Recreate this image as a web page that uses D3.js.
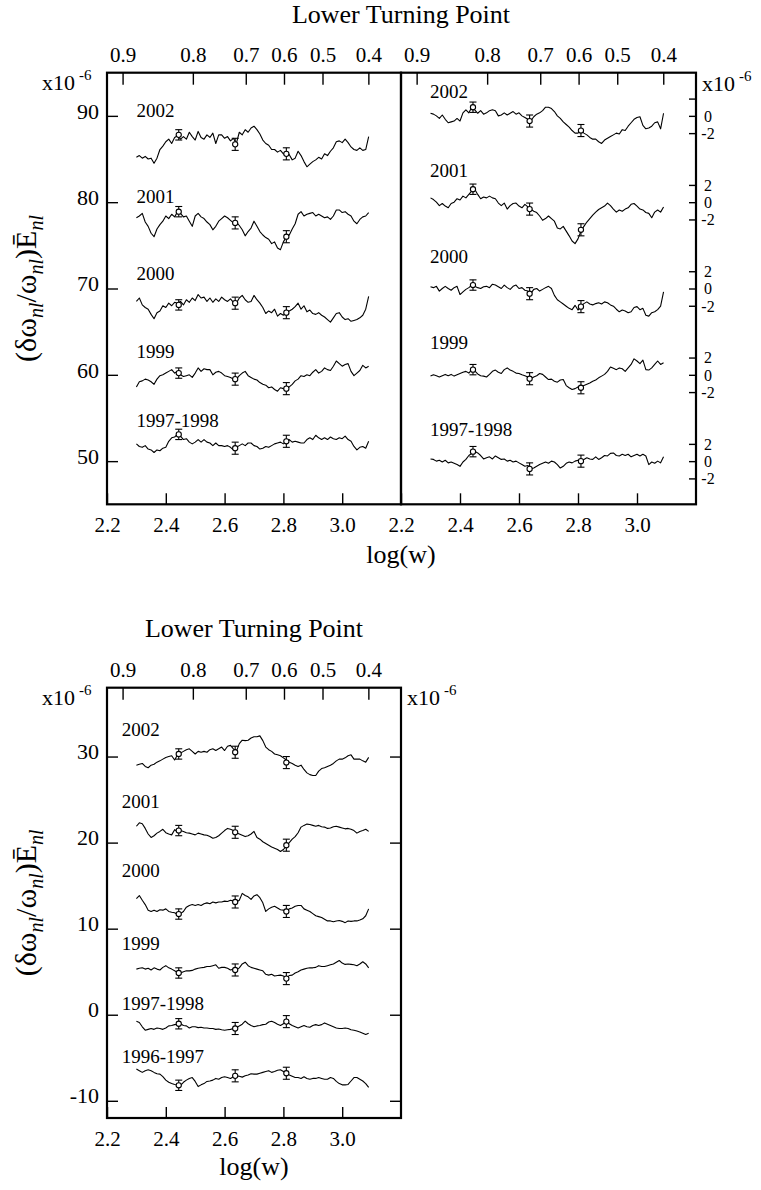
<!DOCTYPE html>
<html>
<head>
<meta charset="utf-8">
<script src="https://cdn.jsdelivr.net/npm/d3@7/dist/d3.min.js"></script>
<style>
  body { margin: 0; background: #fff; }
  text { font-family: "Liberation Serif", "Times New Roman", serif; fill: #000; }
</style>
</head>
<body>
<svg id="chart" width="761" height="1190"></svg>
<script>
// sampling grid, log(w)
const logW = [2.30,2.31,2.32,2.33,2.34,2.35,2.36,2.37,2.38,2.39,
              2.40,2.41,2.42,2.43,2.44,2.45,2.46,2.47,2.48,2.49,
              2.50,2.51,2.52,2.53,2.54,2.55,2.56,2.57,2.58,2.59,
              2.60,2.61,2.62,2.63,2.64,2.65,2.66,2.67,2.68,2.69,
              2.70,2.71,2.72,2.73,2.74,2.75,2.76,2.77,2.78,2.79,
              2.80,2.81,2.82,2.83,2.84,2.85,2.86,2.87,2.88,2.89,
              2.90,2.91,2.92,2.93,2.94,2.95,2.96,2.97,2.98,2.99,
              3.00,3.01,3.02,3.03,3.04,3.05,3.06,3.07,3.08,3.09];
const errLogW = [2.444, 2.636, 2.810];
const errHalf = [0.6, 0.7, 0.7];

// top axis: lower turning point
const turnPos = [2.253, 2.492, 2.672, 2.802, 2.933, 3.089];
const turnLabels = ["0.9", "0.8", "0.7", "0.6", "0.5", "0.4"];
const logTicks = [2.2, 2.4, 2.6, 2.8, 3.0];

const yearsTop = ["2002", "2001", "2000", "1999", "1997-1998"];
const yearsBottom = ["2002", "2001", "2000", "1999", "1997-1998", "1996-1997"];

// ---- top-left panel ----
const tl2002 = [85.2,85.4,85.1,85.3,85.0,85.1,84.5,85.1,86.1,86.5, 87.0,87.3,86.8,87.5,87.7,87.3,87.6,87.3,88.1,87.6,
  87.2,88.2,87.5,87.3,87.8,87.5,88.0,86.8,87.8,87.8, 87.4,87.6,87.1,87.4,86.8,88.1,87.8,88.4,88.1,88.6,
  88.8,88.4,87.9,87.2,86.8,86.6,86.1,86.1,85.8,86.0, 85.6,85.8,85.5,84.9,85.1,85.9,85.4,84.7,84.1,84.4,
  84.7,84.9,85.2,85.0,85.6,85.4,85.9,86.3,87.0,87.1, 86.9,87.3,86.9,86.4,86.1,86.0,86.3,86.0,86.1,87.6];
const tl2001 = [78.2,78.4,78.7,77.7,77.2,76.4,76.0,76.9,77.4,77.8, 78.4,78.1,78.6,78.3,78.9,78.7,78.3,78.4,77.8,77.2,
  78.4,78.7,78.3,78.1,77.7,77.4,76.8,77.2,77.8,78.1, 78.4,78.2,77.9,77.6,77.7,77.3,76.8,76.1,76.6,77.0,
  77.8,77.2,76.6,76.2,75.9,75.7,75.2,75.4,74.7,74.5, 75.4,76.0,76.2,76.9,77.5,78.6,78.9,78.4,78.6,78.7,
  78.8,78.4,78.6,78.4,78.2,78.3,78.0,78.4,79.1,79.1, 78.8,78.9,78.6,78.4,77.8,77.5,78.0,78.3,78.4,78.8];
const tl2000 = [68.5,68.9,68.1,67.8,67.6,67.0,66.5,67.2,67.4,68.0, 67.8,68.3,68.0,68.4,68.3,68.5,68.1,68.7,68.4,68.9,
  68.6,69.3,68.9,69.0,68.5,68.9,68.4,68.8,68.5,69.0, 68.7,68.5,68.8,68.4,68.3,68.9,69.2,68.7,68.4,68.5,
  69.2,68.7,68.3,67.8,67.1,67.4,67.2,67.6,66.8,67.1, 66.9,67.3,67.4,67.6,67.9,68.3,67.6,68.0,67.3,67.5,
  67.1,67.0,67.2,66.9,66.7,66.4,66.1,66.6,67.1,67.2, 66.7,66.4,66.5,66.2,66.3,66.4,66.6,66.9,67.6,69.1];
const tl1999 = [58.6,59.2,59.3,59.5,59.4,59.2,58.9,59.5,59.9,60.0, 60.2,60.4,60.6,60.2,60.4,60.0,59.8,59.9,60.0,59.7,
  60.2,60.8,60.4,60.7,60.6,60.6,60.0,60.3,60.4,60.2, 59.9,59.8,59.7,59.5,59.5,59.9,60.2,60.4,59.9,59.7,
  59.5,59.4,59.1,58.9,58.8,58.5,58.6,58.3,58.1,58.5, 58.4,58.5,58.6,58.9,59.3,59.5,59.9,59.8,60.0,59.9,
  60.3,60.6,60.2,60.4,60.8,60.6,60.5,61.0,61.6,61.3, 61.0,61.2,61.3,60.4,59.9,60.2,60.5,61.1,60.8,61.0];
const tl1997 = [52.0,51.7,51.6,51.8,51.4,51.3,51.0,51.3,51.2,51.5, 51.6,52.3,52.7,52.8,53.1,52.9,52.5,52.6,52.2,52.0,
  52.2,52.5,52.2,52.5,52.2,52.1,51.8,52.1,51.8,51.8, 51.7,51.8,51.6,51.3,51.6,51.8,52.0,51.8,52.1,52.1,
  51.8,51.7,51.4,51.5,51.7,51.6,51.8,52.0,52.1,52.2, 52.0,52.2,52.5,52.2,52.3,52.2,52.1,52.1,52.5,52.7,
  52.5,53.0,52.7,52.5,52.7,52.5,52.8,52.6,52.5,52.7, 52.6,52.9,52.5,52.3,51.7,51.3,51.6,51.7,51.5,52.3];
const tlErr = [[87.8,86.7,85.6],[78.9,77.6,76.0],[68.1,68.3,67.2],[60.2,59.5,58.4],[53.1,51.5,52.3]];
const tlLabelY = [89.9, 79.9, 71.0, 62.0, 54.0];

// ---- top-right panel (residuals, each group shifted to its own zero) ----
const trOffsets = [90, 80, 70, 60, 50];
const trTicks = [2, 0, -2];
const tr2002 = [0.3,0.2,0.0,-0.3,0.1,-0.4,-0.8,-0.7,-0.6,-0.3, -0.6,0.35,0.7,0.35,1.0,0.7,0.3,0.6,0.2,0.35,
  0.6,0.7,0.6,0.0,0.1,0.35,0.1,0.3,0.5,0.2, 0.35,0.0,-0.2,-0.4,-0.6,-0.1,0.2,0.35,0.6,1.0,
  1.0,0.85,0.5,0.0,-0.3,-0.7,-1.0,-1.3,-1.7,-2.0, -2.0,-1.7,-2.0,-2.2,-2.5,-2.7,-2.7,-3.0,-3.2,-2.8,
  -2.6,-2.4,-2.2,-2.0,-2.1,-1.6,-1.7,-1.2,-0.8,-0.4, -0.2,-0.1,-1.1,-1.5,-1.4,-1.2,-0.8,-0.7,-1.5,0.3];
const tr2001 = [0.5,0.3,0.0,-0.4,-0.15,-0.45,-0.65,-0.15,0.0,0.4, 0.25,0.7,0.5,0.9,1.3,1.5,0.9,0.4,0.6,0.5,
  0.7,0.5,0.4,-0.1,-0.4,-0.1,-0.8,-0.4,-0.15,-0.1, -0.45,-0.65,-0.25,-0.55,-0.8,-1.05,-1.2,-1.6,-2.1,-1.9,
  -1.6,-1.9,-2.2,-3.0,-3.1,-2.8,-3.35,-3.9,-4.5,-4.8, -4.25,-3.35,-2.8,-2.3,-1.9,-1.5,-1.15,-0.85,-0.65,-0.45,
  -0.1,-0.4,-0.8,-1.15,-0.9,-1.05,-0.8,-0.65,-0.25,-0.15, -0.45,-0.8,-0.9,-1.2,-1.3,-1.8,-1.15,-0.9,-1.15,-0.55];
const tr2000 = [0.2,0.1,0.25,-0.3,0.0,0.25,0.0,-0.2,0.1,0.25, -0.7,-0.4,-0.1,0.1,0.4,0.25,0.1,0.0,0.2,0.25,
  0.1,0.5,0.4,0.2,0.0,0.4,0.1,-0.1,0.25,0.4, 0.0,0.1,-0.2,-0.3,-0.6,-0.1,0.0,-0.3,-0.1,0.1,
  0.25,0.0,-0.8,-1.3,-1.55,-1.8,-2.05,-2.3,-2.45,-1.95, -2.5,-2.05,-1.75,-1.55,-1.8,-1.9,-1.75,-1.65,-1.8,-1.55,
  -1.65,-1.9,-2.05,-2.4,-2.7,-2.5,-2.6,-2.8,-2.7,-2.2, -2.1,-2.45,-2.3,-3.1,-3.2,-2.8,-2.7,-2.45,-2.05,-0.4];
const tr1999 = [-0.15,0.0,-0.1,-0.25,-0.1,0.05,-0.1,0.05,-0.15,0.0, 0.15,0.3,0.4,0.2,0.6,0.45,0.1,-0.1,-0.15,-0.25,
  0.05,0.4,0.55,0.3,0.15,0.6,0.8,0.55,0.4,0.2, 0.15,0.0,-0.1,-0.25,-0.45,-0.25,-0.1,0.15,0.05,-0.25,
  -0.55,-0.5,-0.75,-0.85,-0.6,-0.55,-1.25,-1.5,-1.7,-1.6, -1.4,-1.4,-1.25,-1.1,-0.95,-0.75,-0.6,-0.35,-0.15,0.05,
  0.4,0.9,0.75,0.6,0.8,0.7,0.4,0.8,1.2,1.85, 1.6,1.3,1.7,0.6,0.55,0.8,1.2,1.6,1.2,1.4];
const tr1997 = [0.25,0.2,0.0,0.1,-0.1,0.1,-0.2,-0.1,-0.25,-0.4, -0.6,-0.1,0.2,0.65,0.9,1.15,0.95,0.65,0.25,0.4,
  0.5,0.25,0.6,0.4,0.2,0.25,0.0,0.1,-0.1,0.0, -0.2,-0.4,-0.6,-0.5,-0.9,-0.8,-0.6,-0.4,-0.25,-0.1,
  -0.25,0.0,-0.1,-0.4,-0.8,-0.6,-0.25,-0.1,-0.2,0.0, 0.1,-0.1,0.2,0.4,0.25,0.2,0.5,0.2,0.4,0.65,
  0.6,0.9,0.95,0.65,0.6,0.8,0.65,0.8,0.5,0.65, 0.8,0.6,0.8,0.6,-0.4,-0.1,-0.25,0.0,-0.2,0.5];
const trErr = [[1.0,-0.6,-1.7],[1.5,-0.8,-3.2],[0.4,-0.6,-2.1],[0.6,-0.45,-1.5],[1.1,-0.9,0.0]];
const trLabelY = [92.05, 82.9, 73.0, 63.0, 52.9];

// ---- bottom panel ----
const b2002 = [29.0,29.1,29.2,28.85,28.7,29.0,29.1,29.35,29.5,29.7, 29.9,30.0,30.1,29.6,30.2,30.4,30.6,30.8,30.9,30.6,
  30.3,30.6,30.5,30.6,30.5,30.8,30.9,30.7,30.9,31.1, 30.7,31.2,31.3,30.9,30.6,31.5,31.9,31.85,31.9,32.15,
  32.3,32.3,32.4,31.85,31.1,30.8,30.6,30.3,30.2,30.1, 29.85,29.6,29.35,29.2,29.0,28.85,29.0,28.5,28.1,27.9,
  27.8,27.8,28.3,28.6,28.7,28.85,29.0,29.2,29.5,29.7, 29.7,29.85,30.1,30.2,29.7,29.7,29.7,29.5,29.35,29.9];
const b2001 = [21.9,22.3,22.2,21.65,21.0,20.6,20.8,21.1,21.3,21.55, 21.15,21.0,20.9,21.5,21.3,21.4,21.3,21.15,21.1,21.0,
  20.9,21.1,21.0,20.9,20.85,20.7,20.5,20.6,20.8,21.1, 21.4,21.65,21.55,21.4,21.15,21.0,20.85,20.7,20.8,21.0,
  21.3,20.6,20.4,20.1,19.9,19.7,19.5,19.35,19.2,18.96, 19.2,19.6,20.0,20.4,20.7,21.15,21.8,22.0,22.15,22.1,
  22.0,21.9,22.0,21.85,21.8,21.65,21.7,21.85,21.9,21.8, 21.7,21.6,21.65,21.55,21.4,21.1,21.3,21.4,21.55,21.3];
const b2000 = [13.5,13.85,13.3,12.8,12.15,12.0,12.15,12.0,12.2,12.15, 12.3,12.0,11.9,11.85,11.65,11.75,12.0,12.5,12.7,12.8,
  12.7,12.8,12.7,12.9,13.0,12.9,13.1,13.0,13.1,13.1, 13.2,13.15,13.3,13.2,13.1,13.3,14.1,13.85,13.7,13.4,
  13.8,13.95,13.6,13.0,12.0,12.3,12.5,12.6,12.4,12.2, 12.15,12.0,12.3,12.4,12.6,12.7,12.7,12.3,12.15,12.0,
  11.75,11.5,11.4,11.3,11.1,10.9,10.9,10.8,10.9,10.95, 10.85,10.7,10.9,10.85,10.9,10.9,11.0,11.15,11.5,12.3];
const b1999 = [5.3,5.4,5.45,5.3,5.4,5.2,5.45,5.3,5.2,5.5, 5.7,5.45,5.3,5.1,4.9,4.85,5.0,5.1,5.1,5.15,
  5.3,5.4,5.45,5.5,5.6,5.6,5.7,5.8,5.4,5.5, 5.5,5.4,5.2,5.3,5.2,5.45,5.9,6.1,5.7,5.5,
  5.4,5.3,5.2,5.1,4.7,4.6,4.7,4.5,4.55,4.6, 4.5,4.3,4.55,4.6,4.85,5.0,5.2,5.3,5.4,5.45,
  5.45,5.5,5.7,5.6,5.6,5.7,5.8,5.9,6.1,6.3, 6.0,5.85,5.9,5.85,5.8,5.7,5.9,6.15,5.9,5.45];
const b1997 = [-0.75,-0.9,-1.4,-1.8,-1.7,-1.6,-1.7,-1.55,-1.6,-1.7, -1.55,-1.3,-1.25,-1.15,-1.1,-1.05,-1.25,-1.3,-1.55,-1.4,
  -1.4,-1.5,-1.45,-1.55,-1.55,-1.6,-1.6,-1.7,-1.65,-1.75, -1.8,-1.75,-1.7,-1.6,-1.55,-1.3,-1.1,-0.75,-1.05,-1.25,
  -1.4,-1.3,-1.25,-1.15,-1.1,-0.85,-0.75,-0.9,-1.1,-1.25, -1.05,-0.85,-1.05,-1.25,-1.4,-1.55,-1.4,-1.25,-1.4,-1.45,
  -1.25,-1.15,-1.25,-1.15,-0.95,-1.1,-1.25,-1.4,-1.55,-1.6, -1.6,-1.55,-1.6,-1.75,-1.8,-1.9,-2.0,-2.15,-2.3,-2.15];
const b1996 = [-6.3,-6.5,-6.7,-6.5,-6.4,-6.5,-6.7,-6.85,-6.9,-7.2, -7.6,-7.85,-8.0,-8.1,-8.15,-8.2,-7.85,-7.6,-7.4,-7.3,
  -7.75,-8.35,-8.15,-8.0,-7.75,-7.7,-7.6,-7.4,-7.5,-7.3, -7.2,-7.3,-7.4,-7.2,-7.1,-7.15,-7.25,-7.1,-7.0,-6.85,
  -6.9,-6.9,-6.8,-6.7,-6.6,-6.5,-6.7,-6.6,-6.45,-6.4, -6.6,-6.8,-7.0,-7.15,-7.3,-7.3,-7.4,-7.2,-7.4,-7.5,
  -7.4,-7.4,-7.3,-7.4,-7.5,-7.5,-7.3,-7.4,-7.75,-8.0, -8.15,-8.15,-8.1,-7.7,-7.3,-7.3,-7.5,-7.7,-8.0,-8.45];
const bErr = [[30.3,30.5,29.3],[21.4,21.2,19.7],[11.7,13.1,12.0],[4.85,5.2,4.2],[-1.05,-1.6,-0.8],[-8.2,-7.1,-6.8]];
const bLabelY = [32.4, 24.0, 16.0, 7.5, 0.6, -5.6];

const leftTicksTop = [50, 60, 70, 80, 90];
const leftTicksBottom = [-10, 0, 10, 20, 30];

const SERIF = '"Liberation Serif", "Times New Roman", serif';
const svg = d3.select('#chart').style('font-family', SERIF);

function styleAxis(g, size) {
  g.attr('font-family', null).style('font-family', SERIF);
  g.select('.domain').remove();
  g.selectAll('.tick line').attr('stroke', '#000').attr('stroke-width', 1.4);
  g.selectAll('.tick text')
    .style('font-family', SERIF)
    .style('font-size', size + 'px')
    .attr('fill', '#000');
}

function drawSeries(g, x, y, values, offset, errs, labelX, labelY, name) {
  const line = d3.line().x((d, i) => x(logW[i])).y(d => y(d + offset));
  g.append('path').datum(values)
    .attr('d', line)
    .attr('fill', 'none')
    .attr('stroke', '#000')
    .attr('stroke-width', 1.1)
    .attr('stroke-linejoin', 'round');

  errs.forEach((v, j) => {
    const cx = x(errLogW[j]);
    const top = y(v + offset + errHalf[j]), bot = y(v + offset - errHalf[j]);
    g.append('line').attr('x1', cx).attr('x2', cx).attr('y1', top).attr('y2', bot)
      .attr('stroke', '#000').attr('stroke-width', 1.1);
    [top, bot].forEach(yy => {
      g.append('line').attr('x1', cx - 3.5).attr('x2', cx + 3.5).attr('y1', yy).attr('y2', yy)
        .attr('stroke', '#000').attr('stroke-width', 1.1);
    });
    g.append('circle').attr('cx', cx).attr('cy', y(v + offset)).attr('r', 2.6)
      .attr('fill', '#fff').attr('stroke', '#000').attr('stroke-width', 1.1);
  });

  g.append('text').attr('x', x(labelX)).attr('y', y(labelY))
    .style('font-size', '19px').text(name);
}

function scaleText(g, x, y) {
  const t = g.append('text').attr('x', x).attr('y', y).style('font-size', '22px');
  t.append('tspan').text('x10');
  t.append('tspan').attr('dx', 4).attr('dy', -10).style('font-size', '15px').text('-6');
}

function yTitle(g, cx, cy) {
  const t = g.append('text')
    .attr('transform', `translate(${cx},${cy}) rotate(-90)`)
    .attr('text-anchor', 'middle')
    .style('font-size', '30px');
  t.append('tspan').text('(δω');
  t.append('tspan').style('font-size', '20px').style('font-style', 'italic').attr('dy', 7).text('nl');
  t.append('tspan').attr('dy', -7).text('/ω');
  t.append('tspan').style('font-size', '20px').style('font-style', 'italic').attr('dy', 7).text('nl');
  t.append('tspan').attr('dy', -7).text(')Ē');
  t.append('tspan').style('font-size', '20px').style('font-style', 'italic').attr('dy', 7).text('nl');
}

function frame(g, x0, y0, x1, y1) {
  g.append('rect').attr('x', x0).attr('y', y0).attr('width', x1 - x0).attr('height', y1 - y0)
    .attr('fill', 'none').attr('stroke', '#000').attr('stroke-width', 2.2);
}

function xAxes(g, x, y0, y1) {
  const top = g.append('g').attr('transform', `translate(0,${y0})`)
    .call(d3.axisTop(x).tickValues(turnPos).tickFormat((d, i) => turnLabels[i])
      .tickSizeInner(-12).tickSizeOuter(0).tickPadding(11));
  styleAxis(top, 21);
  const bot = g.append('g').attr('transform', `translate(0,${y1})`)
    .call(d3.axisBottom(x).tickValues(logTicks).tickFormat(d => d.toFixed(1))
      .tickSizeInner(-11).tickSizeOuter(0).tickPadding(13));
  styleAxis(bot, 21);
}

// ================= TOP PANELS =================
const TY0 = 72.7, TY1 = 504.3;
const yTop = d3.scaleLinear().domain([45, 95]).range([TY1, TY0]);
const xTL = d3.scaleLinear().domain([2.2, 3.2]).range([107, 401]);
const xTR = d3.scaleLinear().domain([2.2, 3.2]).range([401, 696]);

const gTL = svg.append('g');
[tl2002, tl2001, tl2000, tl1999, tl1997].forEach((s, k) =>
  drawSeries(gTL, xTL, yTop, s, 0, tlErr[k], 2.30, tlLabelY[k], yearsTop[k]));
xAxes(gTL, xTL, TY0, TY1);
const tlLeft = gTL.append('g').attr('transform', 'translate(107,0)')
  .call(d3.axisLeft(yTop).tickValues(leftTicksTop).tickFormat(d => String(d))
    .tickSizeInner(-11).tickSizeOuter(0).tickPadding(8));
styleAxis(tlLeft, 22);
tlLeft.selectAll('.tick text').attr('dy', '0.1em');

const gTR = svg.append('g');
[tr2002, tr2001, tr2000, tr1999, tr1997].forEach((s, k) =>
  drawSeries(gTR, xTR, yTop, s, trOffsets[k], trErr[k], 2.298, trLabelY[k], yearsTop[k]));
xAxes(gTR, xTR, TY0, TY1);
const trTickVals = [], trTickText = [];
trOffsets.forEach((o, k) => trTicks.forEach(t => {
  trTickVals.push(o + t);
  trTickText.push(k === 0 && t === 2 ? '' : String(t));
}));
const trRight = gTR.append('g').attr('transform', 'translate(696,0)')
  .call(d3.axisRight(yTop).tickValues(trTickVals).tickFormat((d, i) => trTickText[i])
    .tickSizeInner(-7).tickSizeOuter(0).tickPadding(12));
styleAxis(trRight, 16);
trRight.selectAll('.tick text').attr('text-anchor', 'middle').attr('dy', '0.33em');

frame(svg, 107, TY0, 401, TY1);
frame(svg, 401, TY0, 696, TY1);

svg.append('text').attr('x', 401).attr('y', 23).attr('text-anchor', 'middle')
  .style('font-size', '26px').text('Lower Turning Point');
svg.append('text').attr('x', 401).attr('y', 563).attr('text-anchor', 'middle')
  .style('font-size', '26px').text('log(w)');
scaleText(svg, 42, 90);
scaleText(svg, 702, 91);
yTitle(svg, 36, (TY0 + TY1) / 2);

// ================= BOTTOM PANEL =================
const BY0 = 687.7, BY1 = 1118;
const yBot = d3.scaleLinear().domain([-12, 38]).range([BY1, BY0]);
const xB = d3.scaleLinear().domain([2.2, 3.2]).range([107, 401]);

const gB = svg.append('g');
[b2002, b2001, b2000, b1999, b1997, b1996].forEach((s, k) =>
  drawSeries(gB, xB, yBot, s, 0, bErr[k], 2.25, bLabelY[k], yearsBottom[k]));
xAxes(gB, xB, BY0, BY1);
const bLeft = gB.append('g').attr('transform', 'translate(107,0)')
  .call(d3.axisLeft(yBot).tickValues(leftTicksBottom).tickFormat(d => String(d))
    .tickSizeInner(-11).tickSizeOuter(0).tickPadding(8));
styleAxis(bLeft, 22);
bLeft.selectAll('.tick text').attr('dy', '0.1em');
const bRight = gB.append('g').attr('transform', 'translate(401,0)')
  .call(d3.axisRight(yBot).tickValues(leftTicksBottom).tickFormat('').tickSizeInner(-11).tickSizeOuter(0));
styleAxis(bRight, 18);
frame(svg, 107, BY0, 401, BY1);

svg.append('text').attr('x', 254).attr('y', 637).attr('text-anchor', 'middle')
  .style('font-size', '26px').text('Lower Turning Point');
svg.append('text').attr('x', 254).attr('y', 1175).attr('text-anchor', 'middle')
  .style('font-size', '26px').text('log(w)');
scaleText(svg, 42, 705);
scaleText(svg, 407, 705);
yTitle(svg, 36, (BY0 + BY1) / 2);
</script>
</body>
</html>
